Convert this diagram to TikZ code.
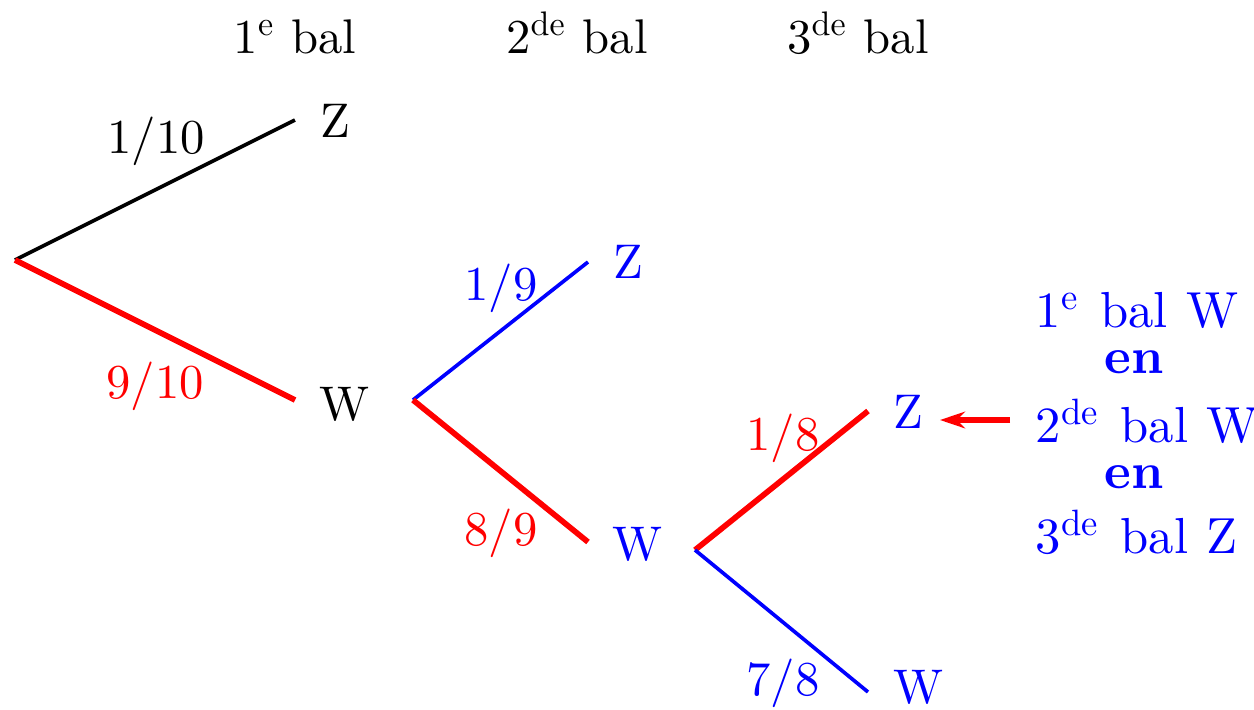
\documentclass[tikz,border=0pt]{standalone}
\usepackage{fontspec}
\setmainfont{lmroman10-regular}[Extension=.otf,BoldFont=lmroman10-bold]
\usetikzlibrary{arrows.meta}
\begin{document}
\begin{tikzpicture}[x=0.3pt,y=-0.3pt,
  lbl/.style={anchor=base,inner sep=0pt,font=\fontsize{14.6}{18}\selectfont},
  side/.style={inner sep=0pt,text=blue,font=\fontsize{15.2}{19}\selectfont},
  blackedge/.style={draw=black,line width=1.1pt},
  blueedge/.style={draw=blue,line width=1.1pt},
  rededge/.style={draw=red,line width=1.7pt},
  pointer/.style={draw=red,line width=1.7pt,-{Stealth[length=7.5pt,width=5pt,inset=2.5pt]}}]
\useasboundingbox (0,0) rectangle (1254,709);
% headers
\node[lbl] (h1) at (295,53) {1\textsuperscript{e} bal};
\node[lbl] (h2) at (577,53) {2\textsuperscript{de} bal};
\node[lbl] (h3) at (858,53) {3\textsuperscript{de} bal};
% coordinates of branches
\coordinate (r0) at (15,260);
\coordinate (z1e) at (295,120);
\coordinate (w1e) at (295,400);
\coordinate (r1) at (413,400);
\coordinate (z2e) at (588,262);
\coordinate (w2e) at (588,542);
\coordinate (r2) at (695,550);
\coordinate (z3e) at (868,411);
\coordinate (w3e) at (868,692);
% leaf labels
\node[lbl] (z1) at (335,137) {Z};
\node[lbl] (w1) at (345,420) {W};
\node[lbl,text=blue] (z2) at (628,278) {Z};
\node[lbl,text=blue] (w2) at (638,560) {W};
\node[lbl,text=blue] (z3) at (908,428) {Z};
\node[lbl,text=blue] (w3) at (919,703) {W};
% edges
\draw[blackedge] (r0) -- (z1e);
\draw[rededge] (r0) -- (w1e);
\draw[blueedge] (r1) -- (z2e);
\draw[rededge] (r1) -- (w2e);
\draw[rededge] (r2) -- (z3e);
\draw[blueedge] (r2) -- (w3e);
% probabilities
\node[lbl] (p1) at (156,153) {1/10};
\node[lbl,text=red] (p2) at (155,398) {9/10};
\node[lbl,text=blue] (p3) at (501,300) {1/9};
\node[lbl,text=red] (p4) at (501,545) {8/9};
\node[lbl,text=red] (p5) at (783,450) {1/8};
\node[lbl,text=blue] (p6) at (783,695) {7/8};
% explanation
\node[side,anchor=base west] (t1) at (1035,327) {1\textsuperscript{\fontsize{11}{12}\selectfont e}\hspace{0.42em}bal\hspace{0.36em}W};
\node[side,anchor=base,font=\fontsize{15.2}{19}\selectfont\bfseries] (e1) at (1134,373) {en};
\node[side,anchor=base west] (t2) at (1035,442) {2\textsuperscript{\fontsize{11}{12}\selectfont de}\hspace{0.42em}bal\hspace{0.36em}W};
\node[side,anchor=base,font=\fontsize{15.2}{19}\selectfont\bfseries] (e2) at (1134,488) {en};
\node[side,anchor=base west] (t3) at (1035,553) {3\textsuperscript{\fontsize{11}{12}\selectfont de}\hspace{0.42em}bal\hspace{0.36em}Z};
\coordinate (a0) at (1010,420);
\coordinate (a1) at (940,420);
\draw[pointer] (a0) -- (a1);
\end{tikzpicture}
\end{document}
